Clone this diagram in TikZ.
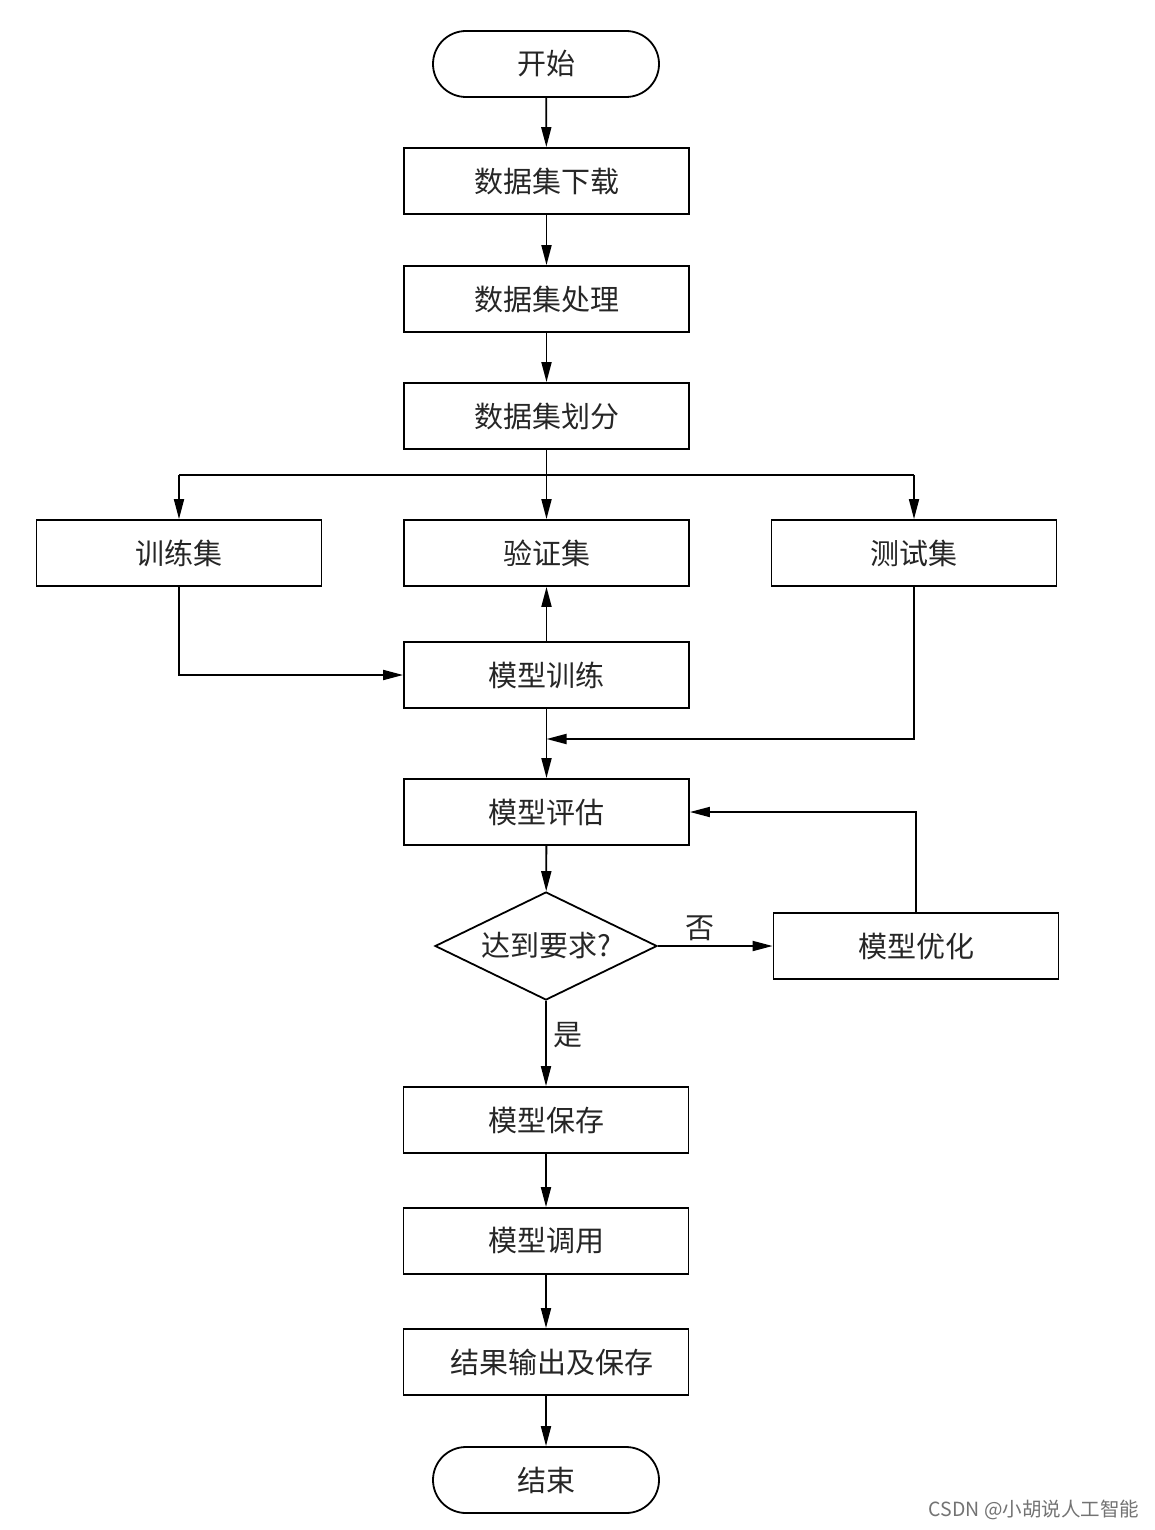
\documentclass[tikz,border=0pt]{standalone}
\usepackage{fontspec}
\setmainfont{Noto Sans CJK SC}
\usetikzlibrary{arrows.meta,shapes.geometric,shapes.misc}
\begin{document}
\begin{tikzpicture}[x=1pt,y=-1pt,
  line width=1.8pt,
  txt/.style={font=\fontsize{29}{32}\selectfont, text=black!85},
  box/.style={draw, txt, rectangle, minimum width=285pt, minimum height=66pt, inner sep=0pt},
  term/.style={draw, txt, rounded rectangle, minimum width=226pt, minimum height=66pt, inner sep=0pt},
  decision/.style={draw, txt, diamond, shape aspect=2, minimum width=222pt, minimum height=108pt, inner sep=0pt},
  arr/.style={-{Triangle[length=20pt,width=10pt]}},
  lbl/.style={txt, inner sep=0pt}]
\fill[white] (0,0) rectangle (1154,1530);
\useasboundingbox (0,0) rectangle (1154,1530);

\node[term] (start) at (546,64) {开始};
\node[box] (d1) at (546.5,181) {数据集下载};
\node[box] (d2) at (546.5,299) {数据集处理};
\node[box] (d3) at (546.5,416) {数据集划分};
\node[box] (train) at (179,553) {训练集};
\node[box] (val) at (546.5,553) {验证集};
\node[box] (test) at (914,553) {测试集};
\node[box] (mtrain) at (546.5,675) {模型训练};
\node[box] (eval) at (546.5,812) {模型评估};
\node[decision] (dec) at (546,946) {达到要求?};
\node[box] (opt) at (916,946) {模型优化};
\node[box] (save) at (546,1120) {模型保存};
\node[box] (call) at (546,1241) {模型调用};
\node[box] (out) at (546,1362) {\hspace*{12pt}结果输出及保存};
\node[term] (end) at (546,1480) {结束};

\node[lbl] (no) at (700,928) {否};
\node[lbl] (yes) at (568,1035) {是};
\node[font=\fontsize{19.5}{22}\selectfont, text=black!55, inner sep=0pt] (wm) at (1034,1510) {CSDN @小胡说人工智能};

\coordinate (bl) at (179,475);
\coordinate (br) at (914,475);
\coordinate (merge) at (546.5,739);

\draw[arr] (start) -- (d1);
\draw[arr] (d1) -- (d2);
\draw[arr] (d2) -- (d3);
\draw (bl) -- (br);
\draw[arr] (d3) -- (val);
\draw[arr] (bl) -- (train);
\draw[arr] (br) -- (test);
\draw[arr] (train.south) |- (mtrain.west);
\draw[arr] (mtrain) -- (val);
\draw[arr] (test.south) |- (merge);
\draw[arr] (mtrain) -- (eval);
\draw[arr] (eval) -- (dec);
\draw[arr] (dec.east) -- (opt.west);
\draw[arr] (opt.north) |- (eval.east);
\draw[arr] (dec.south) -- (save);
\draw[arr] (save) -- (call);
\draw[arr] (call) -- (out);
\draw[arr] (out) -- (end);
\end{tikzpicture}
\end{document}
